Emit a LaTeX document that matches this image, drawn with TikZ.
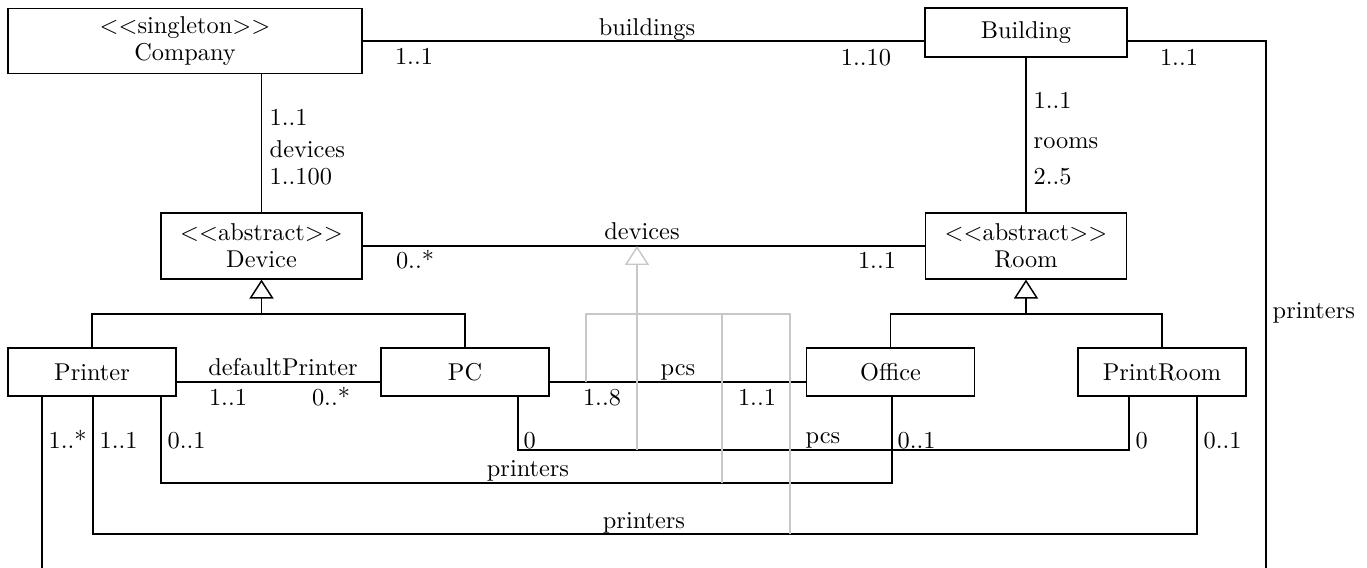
\documentclass[tikz,border=0pt]{standalone}
\usetikzlibrary{arrows.meta}

\tikzset{
  class/.style={draw, inner sep=0pt, minimum width=69pt, minimum height=19.8pt, align=center, font=\fontsize{10}{11}\selectfont},
  abstractclass/.style={class, minimum width=82.7pt, minimum height=27pt},
  inherit/.style={-{Triangle[open,length=7.8pt,width=9.9pt]}},
  assoclink/.style={draw=black!22},
  mult/.style={inner sep=0pt, anchor=base},
  multr/.style={inner sep=0pt, anchor=base west},
}

\begin{document}
\begin{tikzpicture}[x=0.4107pt,y=-0.4107pt,semithick]
	\useasboundingbox (0,0) rectangle (1367,568);

	% classes
	\node[class, minimum width=145.4pt, minimum height=26.7pt] (company) at (185,41) {$<<$singleton$>>$\\Company};
	\node[class, minimum width=83pt, minimum height=20.1pt] (building) at (1026,32.5) {Building};
	\node[abstractclass] (device) at (261.5,246) {$<<$abstract$>>$\\Device};
	\node[abstractclass] (room) at (1026,246) {$<<$abstract$>>$\\Room};
	\node[class] (printer) at (92,372) {Printer};
	\node[class] (pc) at (465,372) {PC};
	\node[class] (office) at (890.5,372) {Office};
	\node[class] (printroom) at (1162,372) {PrintRoom};

	% inheritance
	\coordinate (devsplit) at (261.5,314);
	\coordinate (roomsplit) at (1026,314);
	\draw (printer.north) |- (devsplit) -| (pc.north);
	\draw[inherit] (devsplit) -- (device.south);
	\draw (office.north) |- (roomsplit) -| (printroom.north);
	\draw[inherit] (roomsplit) -- (room.south);

	% Company -- Building
	\draw (company.east) -- (building.west |- company.east);
	\node[mult] (buildingsname) at (647,35) {buildings};
	\node[mult] (buildingscompany) at (414,64) {1..1};
	\node[mult] (buildingsmult) at (866,65) {1..10};

	% Company -- Device
	\draw (device.north |- company.south) -- (device.north);
	\node[multr] (devcompany) at (269,125) {1..1};
	\node[multr] (devname) at (269,157) {devices};
	\node[multr] (devmult) at (269,184) {1..100};

	% Building -- Room
	\draw (building) -- (room);
	\node[multr] (roombuilding) at (1033,108) {1..1};
	\node[multr] (roomsname) at (1033,148) {rooms};
	\node[multr] (roomsmult) at (1033,184) {2..5};

	% Device -- Room
	\draw (device) -- (room);
	\node[mult] (roomdevname) at (642,239) {devices};
	\node[mult] (roomdevmult) at (415,268) {0..*};
	\node[mult] (roomdevroom) at (877,268) {1..1};

	% Building -- Printer
	\coordinate (loopr) at (1266,580);
	\coordinate (loopl) at (42,580);
	\draw (building.east |- company.east) -| (loopr) -- (loopl) -- (loopl |- printer.south);
	\node[mult] (bldprinterbuilding) at (1179,65) {1..1};
	\node[multr] (bldprintername) at (1272,318) {printers};
	\node[multr] (bldprintermult) at (48,448) {1..*};

	% Printer -- PC
	\draw ([yshift=-4.1pt]printer.east) -- ([yshift=-4.1pt]pc.west);
	\node[mult] (defaultname) at (283,375) {defaultPrinter};
	\node[mult] (defaultprinter) at (228,405) {1..1};
	\node[mult] (defaultpc) at (331,405) {0..*};

	% PC -- Office
	\draw ([yshift=-4.1pt]pc.east) -- ([yshift=-4.1pt]office.west);
	\node[mult] (officepcsname) at (678,375) {pcs};
	\node[mult] (officepcsmult) at (602,405) {1..8};
	\node[mult] (officepcsoffice) at (757,405) {1..1};

	% PC -- PrintRoom
	\draw (pc.south -| 518,0) -- (518,450) -| (printroom.south -| 1129,0);
	\node[multr] (prpcsmult) at (523,448) {0};
	\node[mult] (prpcsname) at (823,443) {pcs};
	\node[multr] (prpcsroom) at (1135,448) {0};

	% Printer -- Office
	\draw (printer.south -| 161,0) -- (161,483) -| (office.south -| 892,0);
	\node[multr] (officeprinter) at (167,448) {0..1};
	\node[mult] (officeprintersname) at (528,476) {printers};
	\node[multr] (officeprintersmult) at (897,448) {0..1};

	% Printer -- PrintRoom
	\draw (printer.south -| 93,0) -- (93,534) -| (printroom.south -| 1197,0);
	\node[multr] (prprinter) at (99,448) {1..1};
	\node[mult] (prprintersname) at (644,528) {printers};
	\node[multr] (prprintersmult) at (1203,448) {0..1};

	% links to the devices association
	\draw[assoclink, inherit] (637,450) -- (637,0 |- device);
	\draw[assoclink] (586,382) |- (790,314) -- (790,534);
	\draw[assoclink] (722,314) -- (722,483);
\end{tikzpicture}
\end{document}
